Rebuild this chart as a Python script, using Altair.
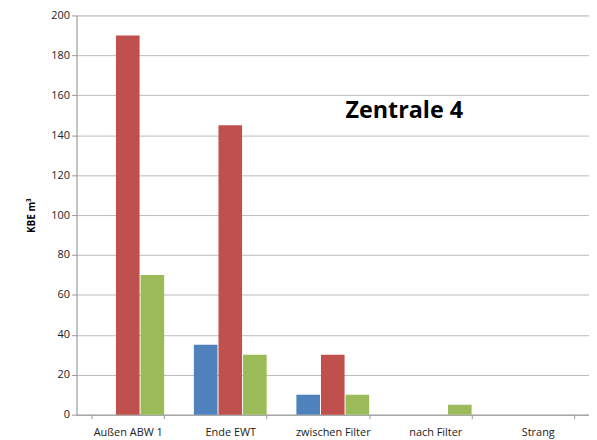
import altair as alt
import pandas as pd

categories = ["Außen ABW 1", "Ende EWT", "zwischen Filter", "nach Filter", "Strang"]
series = ["S1", "S2", "S3"]
blue_vals = [0, 35, 10, 0, 0]
red_vals = [190, 145, 30, 0, 0]
green_vals = [70, 30, 10, 5, 0]
colors = ["#4F81BD", "#C0504D", "#9BBB59"]

rows = []
for i, c in enumerate(categories):
    for s, vals in zip(series, [blue_vals, red_vals, green_vals]):
        rows.append({"cat": c, "series": s, "value": vals[i]})
df = pd.DataFrame(rows)

font = "Open Sans"

bars = alt.Chart(df).mark_bar().encode(
    x=alt.X("cat:N", sort=categories, title=None,
            scale=alt.Scale(paddingInner=0.29, paddingOuter=0.145),
            axis=alt.Axis(labelAngle=0, tickBand="extent", domainColor="#999999",
                          tickColor="#999999", tickSize=4, labelPadding=8,
                          labelFont=font, labelFontSize=11, labelColor="#222222",
                          grid=False)),
    xOffset=alt.XOffset("series:N", sort=series, scale=alt.Scale(paddingInner=0.04)),
    y=alt.Y("value:Q", title="KBE m³",
            scale=alt.Scale(domain=[0, 200], nice=False),
            axis=alt.Axis(values=list(range(0, 201, 20)), gridColor="#BBBBBB",
                          domainColor="#999999", tickColor="#999999", tickSize=5,
                          labelFont=font, labelFontSize=11, labelColor="#222222",
                          titleFont=font, titleFontSize=10, titleFontWeight="bold",
                          titleColor="#000000", titlePadding=14)),
    color=alt.Color("series:N", sort=series,
                    scale=alt.Scale(domain=series, range=colors), legend=None),
)

title = alt.Chart(pd.DataFrame({"t": ["Zentrale 4"]})).mark_text(
    font=font, fontSize=23.5, fontWeight="bold", color="#000000", align="center", baseline="middle"
).encode(text="t:N", x=alt.value(330), y=alt.value(96))

chart = alt.layer(bars, title).properties(
    width=516, height=402
).configure_view(stroke=None).configure(background="white", padding={"left": 19, "top": 0, "right": 0, "bottom": 0})

chart.save("out.html", embed_options={"renderer": "svg", "actions": False})
